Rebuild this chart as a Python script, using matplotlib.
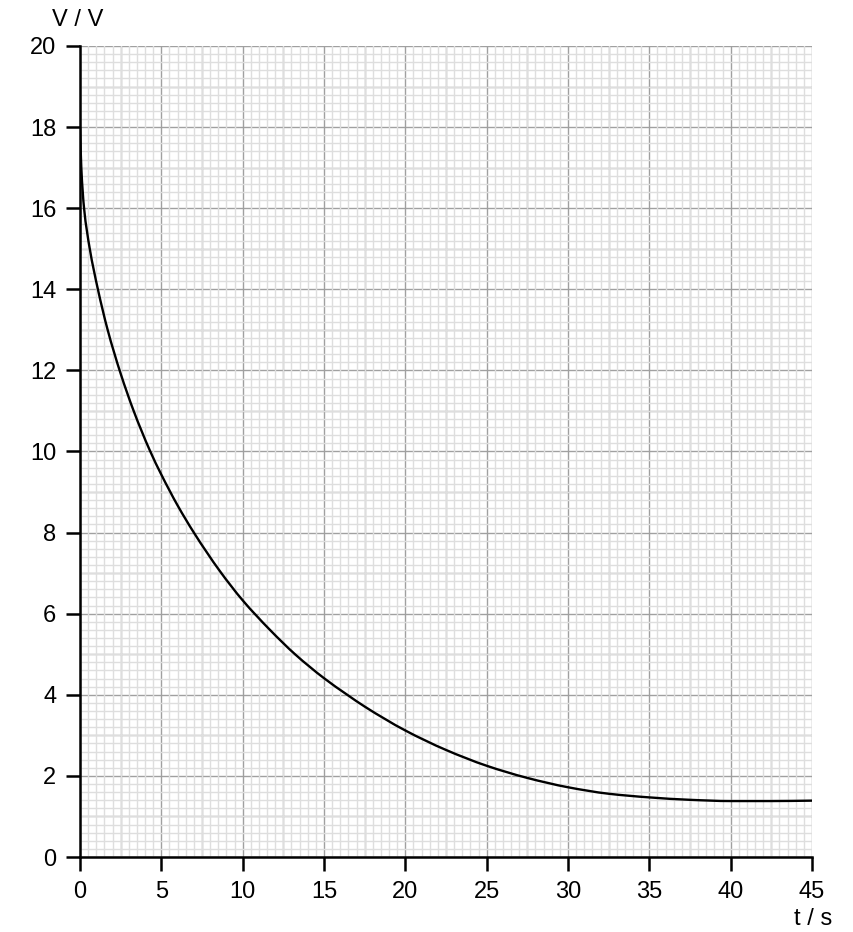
import matplotlib
matplotlib.use("Agg")
import matplotlib.pyplot as plt
from matplotlib.ticker import MultipleLocator
from matplotlib.path import Path
from matplotlib.patches import PathPatch
import numpy as np

plt.rcParams['font.family'] = ['Liberation Sans', 'DejaVu Sans']

# Data (t in s, V in V)
t_vals = [0, 0.08, 0.25, 0.6, 1.1, 1.7, 2.5, 3.3, 4.3, 5, 6, 7, 8.6,
          10, 11.68, 13.22, 15, 16.43, 17.5, 20, 22.5, 25, 27.5, 30, 32.5,
          35, 37.5, 40, 42.5, 45]
v_vals = [18, 17, 16, 15, 14, 13, 11.92, 11.0, 10.02, 9.43, 8.67, 8.0, 7.05,
          6.33, 5.60, 5.0, 4.41, 4.0, 3.71, 3.12, 2.64, 2.25, 1.95, 1.72, 1.56,
          1.47, 1.41, 1.38, 1.38, 1.39]

x_ticks = [0, 5, 10, 15, 20, 25, 30, 35, 40, 45]
y_ticks = [0, 2, 4, 6, 8, 10, 12, 14, 16, 18, 20]
x_label = "t / s"
y_label = "V / V"


def smooth_path(x, y):
    """Shape-preserving cubic (PCHIP tangents) expressed as Bezier segments."""
    x = np.asarray(x, float)
    y = np.asarray(y, float)
    h = np.diff(x)
    d = np.diff(y) / h
    n = len(x)
    m = np.zeros(n)
    for k in range(1, n - 1):
        if d[k - 1] * d[k] <= 0:
            m[k] = 0.0
        else:
            w1 = 2 * h[k] + h[k - 1]
            w2 = h[k] + 2 * h[k - 1]
            m[k] = (w1 + w2) / (w1 / d[k - 1] + w2 / d[k])
    m[0] = d[0]
    m[-1] = d[-1]
    verts = [(x[0], y[0])]
    codes = [Path.MOVETO]
    for i in range(n - 1):
        hh = h[i] / 3.0
        verts += [(x[i] + hh, y[i] + hh * m[i]),
                  (x[i + 1] - hh, y[i + 1] - hh * m[i + 1]),
                  (x[i + 1], y[i + 1])]
        codes += [Path.CURVE4] * 3
    return Path(verts, codes)


fig = plt.figure(figsize=(8.54, 9.32), dpi=100)
ax = fig.add_axes([80/854, 75/932, 732/854, 811/932])
ax.set_xlim(0, 45)
ax.set_ylim(0, 20)

# fine grid
ax.xaxis.set_minor_locator(MultipleLocator(0.5))
ax.yaxis.set_minor_locator(MultipleLocator(0.2))
ax.grid(which='minor', color='#dedede', linewidth=1.0, zorder=0)
# medium grid (2.5 s, 1 V)
for xv in np.arange(0, 45.01, 2.5):
    ax.axvline(xv, color='#a0a0a0', linewidth=1.0, zorder=1)
for yv in np.arange(0, 20.01, 1.0):
    ax.axhline(yv, color='#a0a0a0', linewidth=1.0, zorder=1)

ax.set_xticks(x_ticks)
ax.set_yticks(y_ticks)
ax.tick_params(which='minor', length=0)
ax.tick_params(which='major', length=10, width=1.8, direction='out',
               labelsize=17, pad=7, colors='black')

for s in ['top', 'right']:
    ax.spines[s].set_visible(False)
for s in ['left', 'bottom']:
    ax.spines[s].set_linewidth(1.8)
    ax.spines[s].set_zorder(5)

patch = PathPatch(smooth_path(t_vals, v_vals), facecolor='none',
                  edgecolor='black', linewidth=1.7, zorder=4,
                  capstyle='round', joinstyle='round')
ax.add_patch(patch)

fig.text(78/854, 1 - 20/932, y_label, ha='center', va='center', fontsize=17)
fig.text(813/854, 1 - 919/932, x_label, ha='center', va='center', fontsize=17)

fig.savefig("out.png", dpi=100)
